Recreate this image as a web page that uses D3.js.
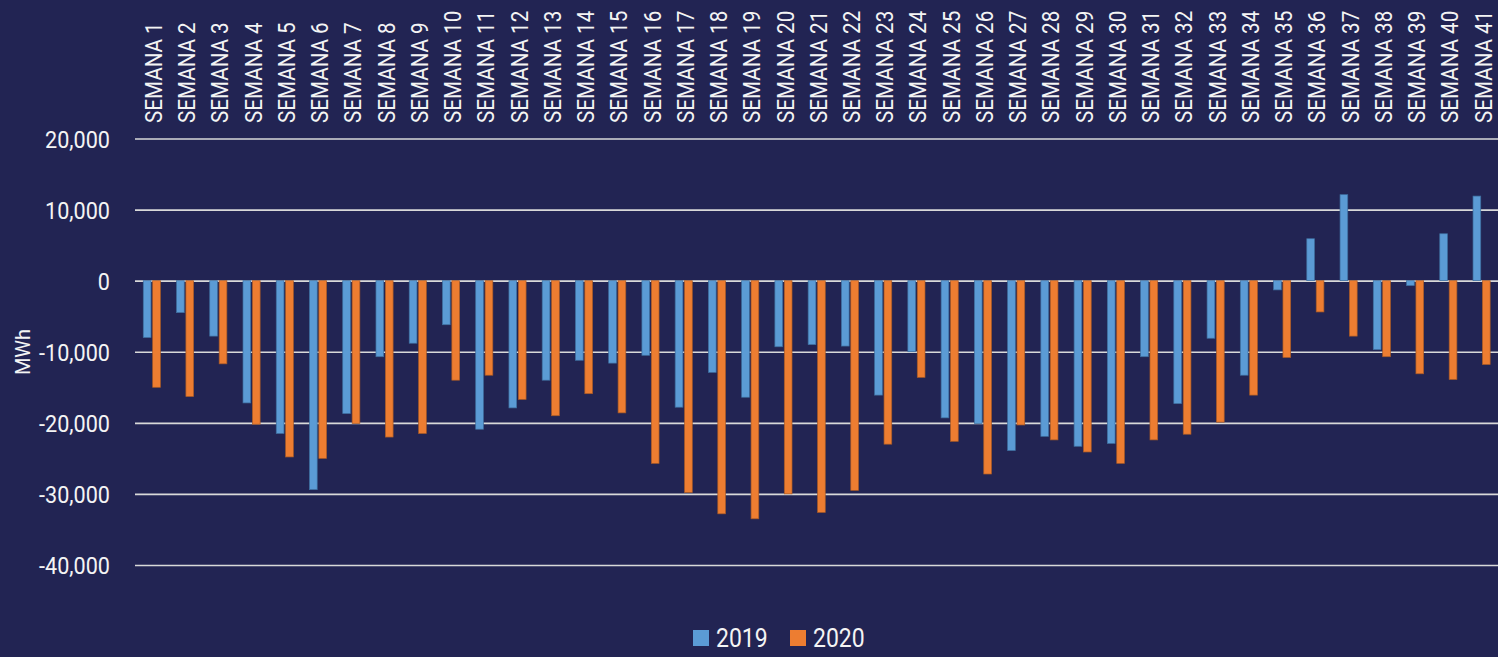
<!DOCTYPE html>
<html>
<head>
<meta charset="utf-8">
<script src="https://cdn.jsdelivr.net/npm/d3@7"></script>
<style>
  html, body { margin: 0; padding: 0; background: #222453; }
  svg { display: block; }
</style>
</head>
<body>
<svg id="chart" width="1498" height="657"></svg>
<script>
const categories = Array.from({length: 41}, (_, i) => "SEMANA " + (i + 1));
const seriesNames = ["2019", "2020"];
const values2019 = [-8000, -4500, -7800, -17200, -21500, -29400, -18700, -10700, -8800, -6200,
  -20900, -17900, -14000, -11200, -11600, -10500, -17800, -12900, -16400, -9300,
  -9000, -9200, -16100, -10000, -19300, -20100, -23900, -21900, -23300, -22900,
  -10700, -17300, -8100, -13300, -1300, 5900, 12100, -9700, -700, 6600, 11900];
const values2020 = [-15000, -16300, -11700, -20200, -24800, -25000, -20100, -22000, -21500, -14000,
  -13300, -16700, -19000, -15900, -18600, -25700, -29800, -32800, -33500, -30000,
  -32600, -29500, -23000, -13600, -22600, -27200, -20300, -22400, -24100, -25700,
  -22400, -21600, -19900, -16100, -10800, -4400, -7800, -10700, -13100, -13900, -11800];
const yTicks = [-40000, -30000, -20000, -10000, 0, 10000, 20000];

const colors = {"2019": "#5B9BD5", "2020": "#ED7D31"};
const strokes = {"2019": "#3E6E9E", "2020": "#A85A26"};
const textColor = "#F4F4F4";
const gridColor = "#D9D9D9";
const font = "Roboto, 'DejaVu Sans', sans-serif";

const svg = d3.select("#chart");
const plotLeft = 135, plotRight = 1498, plotTop = 138.5, plotBottom = 565;

const x = d3.scaleBand().domain(categories).range([plotLeft, plotRight]).paddingInner(0).paddingOuter(0);
const y = d3.scaleLinear().domain([-40000, 20000]).range([plotBottom, plotTop]);
const groupW = x.bandwidth() * 0.515;
const x1 = d3.scaleBand().domain(seriesNames).range([-groupW / 2, groupW / 2]).paddingInner(0.18);

const locale = d3.formatLocale({decimal: ".", thousands: ",", grouping: [3], currency: ["", ""], minus: "-"});

// Y axis with gridlines
const yAxis = d3.axisLeft(y).tickValues(yTicks).tickSize(-(plotRight - plotLeft)).tickPadding(0)
  .tickFormat(locale.format(","));
const gy = svg.append("g").attr("transform", `translate(${plotLeft},0)`).call(yAxis);
gy.select(".domain").remove();
gy.selectAll(".tick line").attr("stroke", gridColor).attr("stroke-width", 1.6);
gy.selectAll(".tick text")
  .attr("x", 0).attr("dy", "0.36em")
  .attr("transform", "translate(-25,0) scale(0.9,1)")
  .attr("fill", textColor).style("font-family", font).style("font-size", "24px");

// Bars
const data = categories.map((c, i) => ({cat: c, vals: [{k: "2019", v: values2019[i]}, {k: "2020", v: values2020[i]}]}));
const groups = svg.append("g").selectAll("g").data(data).join("g")
  .attr("transform", d => `translate(${x(d.cat) + x.bandwidth() / 2 + 0.2},0)`);
groups.selectAll("rect").data(d => d.vals).join("rect")
  .attr("x", d => x1(d.k))
  .attr("width", x1.bandwidth())
  .attr("y", d => Math.min(y(d.v), y(0)))
  .attr("height", d => Math.abs(y(d.v) - y(0)))
  .attr("fill", d => colors[d.k])
  .attr("stroke", d => strokes[d.k])
  .attr("stroke-width", 0.7);

// X axis labels (top, rotated)
const xAxis = d3.axisTop(x).tickSize(0).tickPadding(0);
const gx = svg.append("g").attr("transform", `translate(0,123)`).call(xAxis);
gx.select(".domain").remove();
gx.selectAll(".tick text")
  .attr("transform", "translate(1.6,0) rotate(-90) scale(0.86,1)")
  .attr("x", 0).attr("y", 0).attr("dy", "0.36em")
  .attr("text-anchor", "start")
  .attr("fill", textColor).style("font-family", font).style("font-size", "24px");

// Y axis title
svg.append("text")
  .attr("transform", "translate(30,352) rotate(-90)")
  .attr("text-anchor", "middle")
  .attr("fill", textColor).style("font-family", font).style("font-size", "20px")
  .text("MWh");

// Legend
const legendItems = [{k: "2019", x: 693}, {k: "2020", x: 790}];
const lg = svg.append("g").selectAll("g").data(legendItems).join("g")
  .attr("transform", d => `translate(${d.x},630)`);
lg.append("rect").attr("width", 16).attr("height", 16).attr("fill", d => colors[d.k]);
lg.append("text").attr("transform", "translate(23,16.5) scale(0.92,1)")
  .attr("fill", textColor).style("font-family", font).style("font-size", "25px")
  .text(d => d.k);
</script>
</body>
</html>
